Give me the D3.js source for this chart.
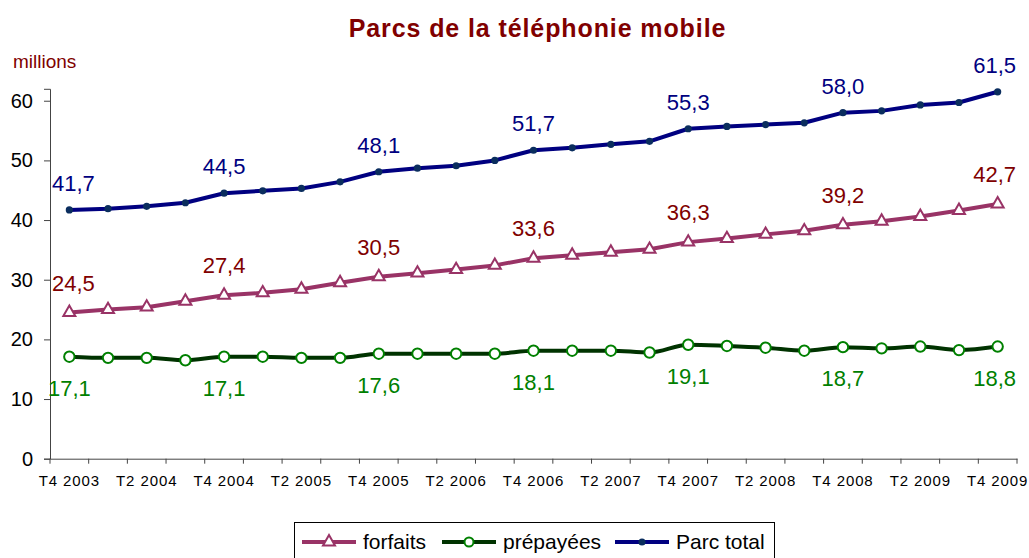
<!DOCTYPE html>
<html><head><meta charset="utf-8">
<script src="https://cdn.jsdelivr.net/npm/d3@7"></script>
<style>
body{margin:0;background:#fff}
svg{display:block}
text{font-family:"Liberation Sans",Arial,sans-serif}
</style>
</head><body>
<svg id="c" width="1029" height="558"></svg>
<script>
const categories = ["T4 2003","T1 2004","T2 2004","T3 2004","T4 2004","T1 2005","T2 2005","T3 2005","T4 2005","T1 2006","T2 2006","T3 2006","T4 2006","T1 2007","T2 2007","T3 2007","T4 2007","T1 2008","T2 2008","T3 2008","T4 2008","T1 2009","T2 2009","T3 2009","T4 2009"];
const xTickLabels = ["T4 2003","T2 2004","T4 2004","T2 2005","T4 2005","T2 2006","T4 2006","T2 2007","T4 2007","T2 2008","T4 2008","T2 2009","T4 2009"];
const yTicks = [0,10,20,30,40,50,60];
const forfaits  = [24.5,25.0,25.4,26.4,27.4,27.8,28.4,29.5,30.5,31.1,31.7,32.4,33.6,34.1,34.6,35.1,36.3,36.9,37.6,38.2,39.2,39.8,40.6,41.6,42.7];
const prepayees = [17.1,16.9,16.9,16.5,17.1,17.1,16.9,16.9,17.6,17.6,17.6,17.6,18.1,18.1,18.1,17.8,19.1,18.9,18.6,18.1,18.7,18.5,18.8,18.2,18.8];
const parcTotal = [41.7,41.9,42.3,42.9,44.5,44.9,45.3,46.4,48.1,48.7,49.1,50.0,51.7,52.1,52.7,53.2,55.3,55.7,56.0,56.3,58.0,58.3,59.3,59.7,61.5];
const labelledIndex = [0,4,8,12,16,20,24];
const seriesNames = ["forfaits","prépayées","Parc total"];

const svg = d3.select("#c");
const x = d3.scaleBand().domain(categories).range([50,1017]).padding(0);
const y = d3.scaleLinear().domain([0,62]).range([458.7,88.8]);
const cx = c => x(c) + x.bandwidth()/2;
const fmt = v => d3.format(".1f")(v).replace(".", ",");

// Title
svg.append("text").attr("x",537.5).attr("y",36.5).attr("text-anchor","middle")
  .style("font-size","25px").style("font-weight","bold").style("letter-spacing","0.9px")
  .attr("fill","#800000").text("Parcs de la téléphonie mobile");
svg.append("text").attr("x",13).attr("y",68).style("font-size","19px")
  .attr("fill","#800000").text("millions");

// Y axis
const yAxis = svg.append("g").attr("transform","translate(50,0)")
  .call(d3.axisLeft(y).tickValues(yTicks).tickSize(6).tickPadding(11).tickFormat(d3.format("d")));
yAxis.selectAll("text").style("font-size","20px").attr("fill","#000");
yAxis.selectAll("line,path").attr("stroke","#444");

// X axis
const xAxis = svg.append("g").attr("transform","translate(0,458.7)")
  .call(d3.axisBottom(x).tickValues(categories.filter(c => xTickLabels.includes(c))).tickSize(0).tickPadding(16.5));
xAxis.selectAll("text").style("font-size","15px").style("letter-spacing","0.9px").attr("fill","#000");
xAxis.select(".domain").attr("stroke","#444");
xAxis.selectAll(".tick line").remove();
const bounds = categories.map(c => x(c)).concat([x.range()[1]]);
xAxis.selectAll("line.bt").data(bounds).enter().append("line").attr("class","bt")
  .attr("x1",d=>d).attr("x2",d=>d).attr("y1",0).attr("y2",5).attr("stroke","#444");

const series = [
  {name:seriesNames[0], vals:forfaits, line:"#993366", curve:d3.curveLinear, lab:"#800000", off:-22, clamp:52},
  {name:seriesNames[1], vals:prepayees, line:"#003300", curve:d3.curveMonotoneX, lab:"#008000", off:39, clamp:0},
  {name:seriesNames[2], vals:parcTotal, line:"#000080", curve:d3.curveLinear, lab:"#000080", off:-19, clamp:52}
];

function marker(g, s, px, py, legend){
  if (s.name === seriesNames[0]) {
    g.append("path").attr("d", d3.symbol(d3.symbolTriangle, 62)())
      .attr("transform",`translate(${px},${py})`).attr("fill","#fff")
      .attr("stroke","#993366").attr("stroke-width",2);
  } else if (s.name === seriesNames[1]) {
    g.append("circle").attr("cx",px).attr("cy",py).attr("r",legend?4.5:5.2)
      .attr("fill","#fff").attr("stroke","#008000").attr("stroke-width",2);
  } else {
    g.append("circle").attr("cx",px).attr("cy",py).attr("r",3.6).attr("fill","#0a2d5e");
  }
}

series.forEach(s => {
  const g = svg.append("g");
  const line = d3.line().x((d,i)=>cx(categories[i])).y(d=>y(d)).curve(s.curve);
  g.append("path").attr("d", line(s.vals)).attr("fill","none")
    .attr("stroke", s.line).attr("stroke-width",4).attr("stroke-linejoin","round");
  s.vals.forEach((v,i) => marker(g, s, cx(categories[i]), y(v), false));
  labelledIndex.forEach(i => {
    const v = s.vals[i];
    const t = g.append("text").attr("x", cx(categories[i])).attr("y", y(v) + s.off)
      .attr("text-anchor","middle").style("font-size","22px").attr("fill", s.lab).text(fmt(v));
    const w = t.node().getComputedTextLength();
    let px = cx(categories[i]);
    if (s.clamp && px - w/2 < s.clamp) px = s.clamp + w/2;
    if (px + w/2 > 1016) px = 1016 - w/2;
    t.attr("x", px);
  });
});

// Legend
const lg = svg.append("g");
lg.append("rect").attr("x",294.5).attr("y",522.5).attr("width",480).attr("height",45)
  .attr("fill","#fff").attr("stroke","#000").attr("stroke-width",1);
const legendX = [302, 442, 615];
series.forEach((s,k) => {
  const x0 = legendX[k], ly = 542;
  lg.append("line").attr("x1",x0).attr("x2",x0+54).attr("y1",ly).attr("y2",ly)
    .attr("stroke",s.line).attr("stroke-width",4);
  marker(lg, s, x0+27, ly, true);
  lg.append("text").attr("x",x0+61).attr("y",549).style("font-size","21px")
    .attr("fill","#000").text(s.name);
});
</script>
</body></html>
